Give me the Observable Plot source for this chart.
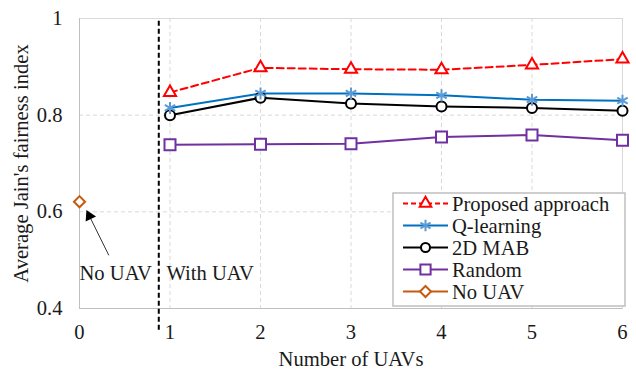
<!DOCTYPE html>
<html>
<head>
<meta charset="utf-8">
<script src="https://cdn.jsdelivr.net/npm/d3@7"></script>
<script src="https://cdn.jsdelivr.net/npm/@observablehq/plot@0.6"></script>
<style>
  html, body { margin: 0; padding: 0; background: white; }
</style>
</head>
<body>
<div id="chart"></div>
<script>
// ---- data ----
const uavs = [1, 2, 3, 4, 5, 6];
const proposed = [0.847, 0.898, 0.895, 0.894, 0.904, 0.916];
const qlearning = [0.815, 0.845, 0.845, 0.841, 0.832, 0.830];
const mab2d = [0.800, 0.836, 0.824, 0.818, 0.815, 0.809];
const randomSel = [0.739, 0.740, 0.741, 0.755, 0.759, 0.748];
const noUavX = [0];
const noUav = [0.621];

const xTicks = [0, 1, 2, 3, 4, 5, 6];
const yTicks = [0.4, 0.6, 0.8, 1];
const seriesNames = ["Proposed approach", "Q-learning", "2D MAB", "Random", "No UAV"];

// annotation (data coordinates)
const dividerX = [0.876];
const noteLabels = ["No UAV", "With UAV"];
const noteX = [0, 0.96];
const noteY = [0.473, 0.473];
const arrowFrom = {x: 0.324, y: 0.510};
const arrowHead = {x: 0.109, y: 0.5915};

// ---- styling ----
const colors = {
  proposed: "#ff0000",
  qline: "#0070c0",
  qmark: "#5b9bd5",
  mab: "#000000",
  random: "#7030a0",
  nouav: "#c55a11"
};

const mk = (xs, ys) => xs.map((x, i) => ({x, y: ys[i]}));
const dProp = mk(uavs, proposed);
const dQ = mk(uavs, qlearning);
const dM = mk(uavs, mab2d);
const dR = mk(uavs, randomSel);
const dN = mk(noUavX, noUav);
const notes = noteLabels.map((t, i) => ({t, x: noteX[i], y: noteY[i]}));

const font = "'Liberation Serif', 'Times New Roman', serif";
const fsize = "20.6px";

const chart = Plot.plot({
  width: 636,
  height: 373,
  marginLeft: 79,
  marginRight: 14,
  marginTop: 18,
  marginBottom: 65,
  style: {fontFamily: font, fontSize: fsize, color: "#1a1a1a", background: "white", overflow: "visible"},
  x: {domain: [0, 6]},
  y: {domain: [0.4, 1]},
  marks: [
    Plot.gridX([1, 2, 3, 4, 5], {stroke: "#d9d9d9", strokeOpacity: 1, strokeDasharray: "4,3"}),
    Plot.gridY([0.6, 0.8], {stroke: "#d9d9d9", strokeOpacity: 1, strokeDasharray: "4,3"}),
    Plot.frame({stroke: "#d9d9d9"}),
    Plot.ruleX([0], {stroke: "#bfbfbf"}),
    Plot.ruleY([0.4], {stroke: "#bfbfbf"}),
    Plot.axisX({ticks: xTicks, tickSize: 0, tickPadding: 16, tickFormat: d => String(d),
      label: "Number of UAVs", labelAnchor: "center", labelOffset: 57, labelArrow: "none"}),
    Plot.axisY({ticks: yTicks, tickSize: 0, tickPadding: 17, tickFormat: d => String(d),
      label: "Average Jain's fairness index", labelAnchor: "center", labelOffset: 66, labelArrow: "none"}),
    // divider
    Plot.ruleX(dividerX, {y1: 0.355, y2: 1, stroke: "black", strokeWidth: 2, strokeDasharray: "5,3", clip: false}),
    // lines
    Plot.line(dR, {x: "x", y: "y", stroke: colors.random, strokeWidth: 2}),
    Plot.line(dM, {x: "x", y: "y", stroke: colors.mab, strokeWidth: 2}),
    Plot.line(dQ, {x: "x", y: "y", stroke: colors.qline, strokeWidth: 2}),
    Plot.line(dProp, {x: "x", y: "y", stroke: colors.proposed, strokeWidth: 2, strokeDasharray: "7,4"}),
    // markers
    Plot.dot(dR, {x: "x", y: "y", symbol: "square2", r: 7, stroke: colors.random, strokeWidth: 2, fill: "white"}),
    Plot.dot(dM, {x: "x", y: "y", symbol: "circle", r: 5, stroke: colors.mab, strokeWidth: 2, fill: "white"}),
    Plot.dot(dQ, {x: "x", y: "y", symbol: "asterisk", r: 5.7, stroke: colors.qmark, strokeWidth: 2}),
    Plot.dot(dProp, {x: "x", y: "y", symbol: "triangle2", r: 5.8, stroke: colors.proposed, strokeWidth: 2, fill: "white"}),
    Plot.dot(dN, {x: "x", y: "y", symbol: "diamond2", r: 5, stroke: colors.nouav, strokeWidth: 2, fill: "white", clip: false}),
    // annotation
    Plot.link([arrowFrom], {x1: "x", y1: "y", x2: () => arrowHead.x, y2: () => arrowHead.y, stroke: "#333", strokeWidth: 1}),
    Plot.dot([arrowHead], {x: "x", y: "y", symbol: "triangle", r: 4.3, fill: "black", rotate: -26}),
    Plot.text(notes, {x: "x", y: "y", text: "t", textAnchor: "start", lineAnchor: "middle", fill: "#1a1a1a"})
  ]
});

const svg = d3.select(chart);
svg.selectAll("text").style("font-family", font).style("font-size", fsize);

// ---- legend ----
const lg = svg.append("g").attr("font-family", font).attr("text-anchor", "start");
const box = {x: 393, y: 193, w: 232, h: 113};
lg.append("rect").attr("x", box.x).attr("y", box.y).attr("width", box.w).attr("height", box.h)
  .attr("fill", "white").attr("stroke", "#bfbfbf").attr("stroke-width", 1.5);
const legendItems = [
  {name: seriesNames[0], line: colors.proposed, mark: colors.proposed, sym: d3.symbolTriangle2, r: 5.5, dash: "5,3", fill: "white"},
  {name: seriesNames[1], line: colors.qline, mark: colors.qmark, sym: d3.symbolAsterisk, r: 5.5, dash: null, fill: "none"},
  {name: seriesNames[2], line: colors.mab, mark: colors.mab, sym: d3.symbolCircle, r: 4.5, dash: null, fill: "white"},
  {name: seriesNames[3], line: colors.random, mark: colors.random, sym: d3.symbolSquare2, r: 6.5, dash: null, fill: "white"},
  {name: seriesNames[4], line: colors.nouav, mark: colors.nouav, sym: d3.symbolDiamond2, r: 5, dash: null, fill: "white"}
];
legendItems.forEach((it, i) => {
  const cy = 203.5 + i * 22;
  const g = lg.append("g");
  g.append("line").attr("x1", 403).attr("x2", 448).attr("y1", cy).attr("y2", cy)
    .attr("stroke", it.line).attr("stroke-width", 2).attr("stroke-dasharray", it.dash);
  g.append("path").attr("d", d3.symbol(it.sym, Math.PI * it.r * it.r)())
    .attr("transform", `translate(425.5,${cy})`)
    .attr("stroke", it.mark).attr("stroke-width", 2).attr("fill", it.fill);
  g.append("text").attr("x", 452).attr("y", cy).attr("dy", "0.35em")
    .attr("text-anchor", "start").style("font-family", font).style("font-size", fsize)
    .attr("fill", "#1a1a1a").text(it.name);
});

document.getElementById("chart").appendChild(chart);
</script>
</body>
</html>
